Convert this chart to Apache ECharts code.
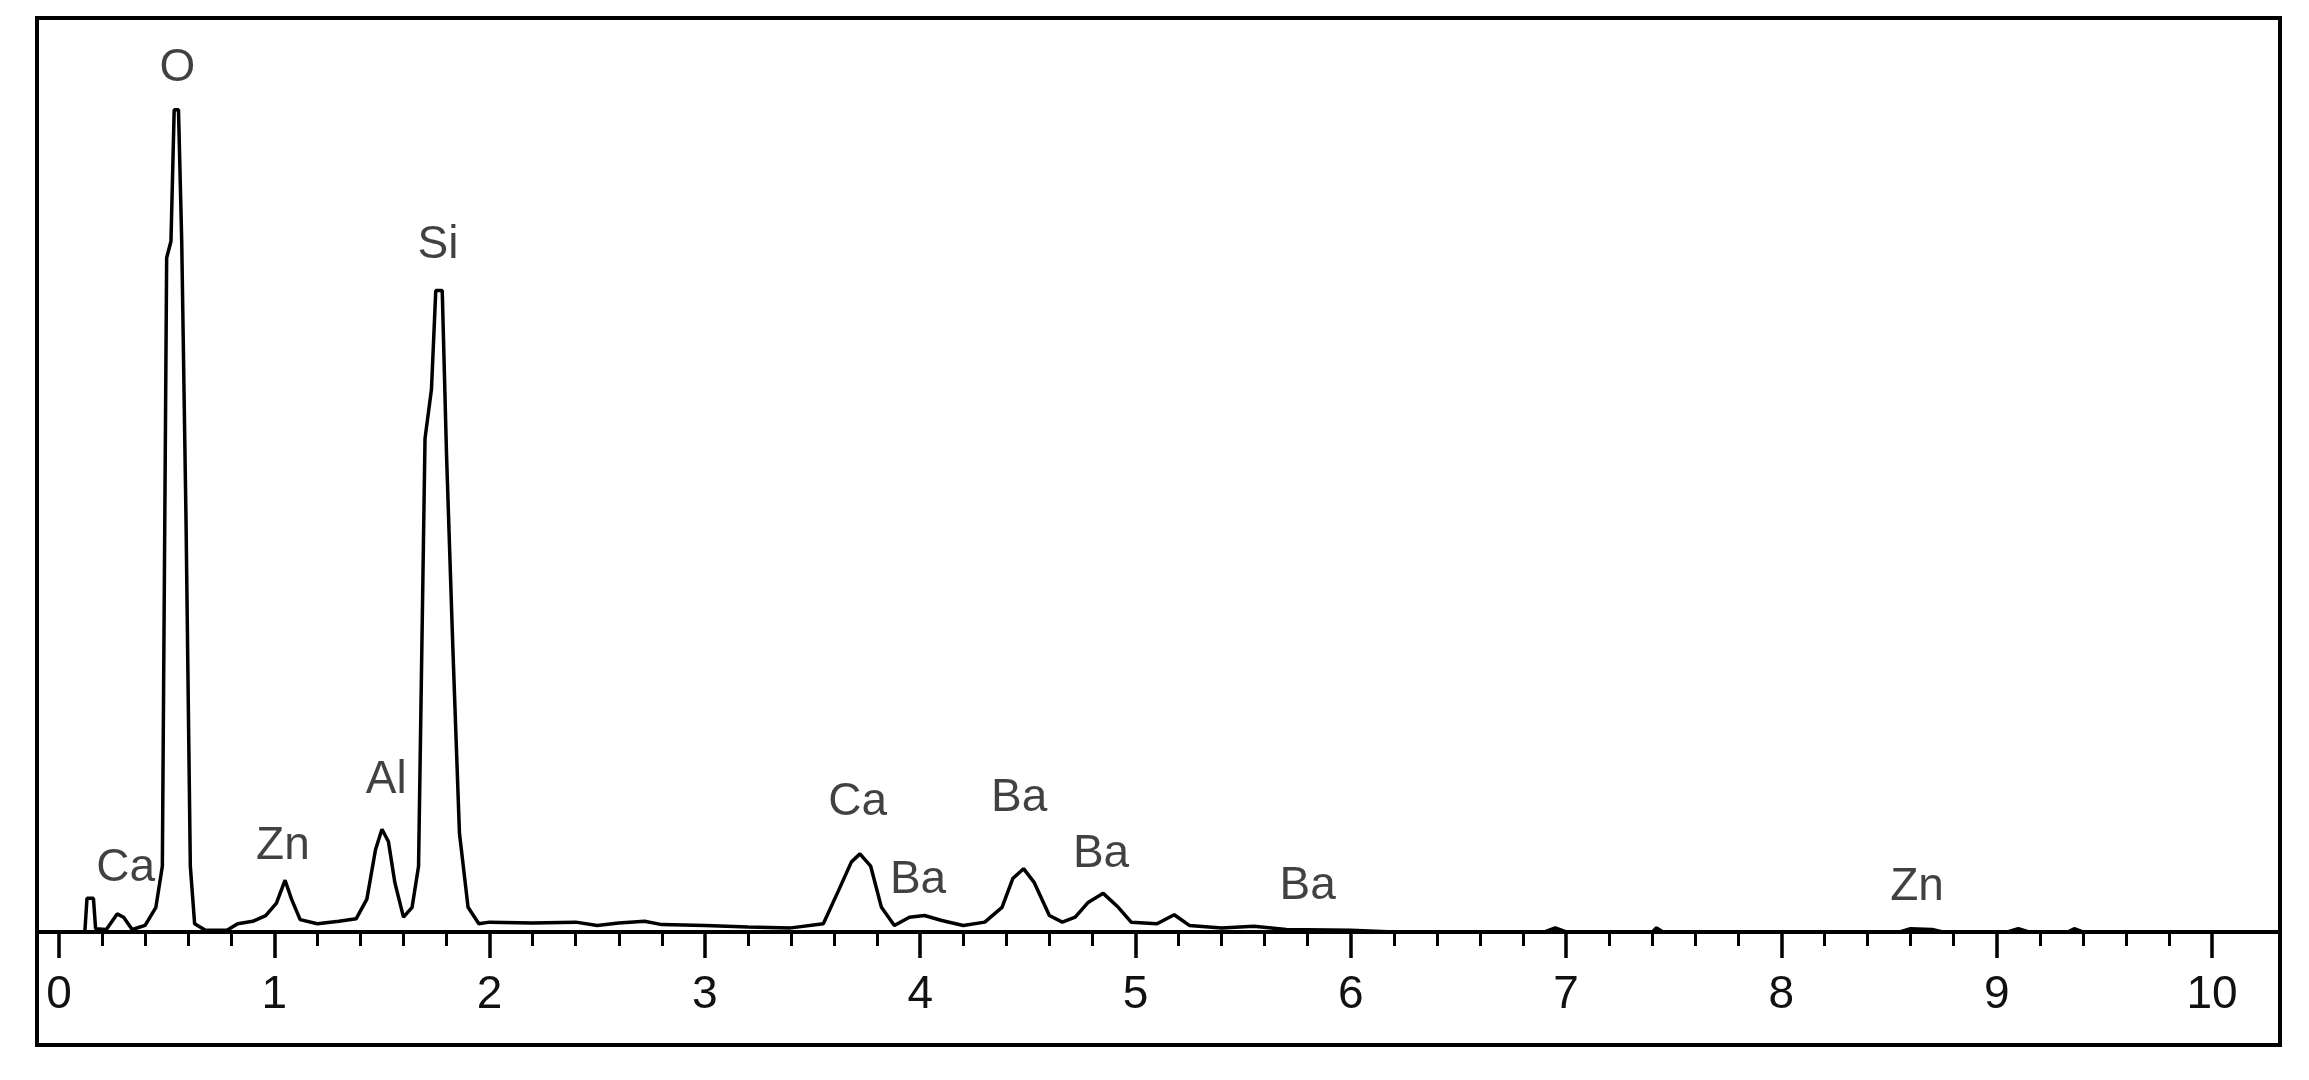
<!DOCTYPE html>
<html>
<head>
<meta charset="utf-8">
<script src="https://cdn.jsdelivr.net/npm/echarts@6/dist/echarts.min.js"></script>
<style>html,body{margin:0;padding:0;background:#fff}#chart{width:2309px;height:1080px}</style>
</head>
<body>
<div id="chart"></div>
<script>
// EDS spectrum, energy (keV) vs relative counts (O peak = 100)
let spectrum = [
    [-0.1, 0], [0.12, 0], [0.13, 4.1], [0.16, 4.1], [0.17, 0.4], [0.22, 0.3], [0.27, 2.2], [0.3, 1.8],
    [0.34, 0.3], [0.4, 0.8], [0.45, 3], [0.48, 8], [0.5, 82], [0.52, 84], [0.535, 100], [0.555, 100],
    [0.57, 84], [0.59, 50], [0.61, 8], [0.63, 1], [0.68, 0.2], [0.78, 0.2], [0.83, 1], [0.9, 1.3],
    [0.96, 2], [1.01, 3.5], [1.05, 6.3], [1.08, 4], [1.12, 1.5], [1.2, 1], [1.3, 1.3], [1.38, 1.6],
    [1.43, 4], [1.47, 10], [1.5, 12.5], [1.53, 11], [1.56, 6], [1.6, 1.8], [1.64, 3], [1.67, 8],
    [1.7, 60], [1.73, 66], [1.75, 78], [1.78, 78], [1.8, 58], [1.83, 34], [1.86, 12], [1.9, 3],
    [1.95, 1], [2.0, 1.2], [2.2, 1.1], [2.4, 1.2], [2.5, 0.8], [2.6, 1.1], [2.72, 1.3], [2.8, 0.9],
    [3.0, 0.8], [3.2, 0.6], [3.4, 0.5], [3.55, 1], [3.62, 5], [3.68, 8.5], [3.72, 9.5], [3.77, 8],
    [3.82, 3], [3.88, 0.8], [3.95, 1.8], [4.02, 2], [4.1, 1.4], [4.2, 0.8], [4.3, 1.2], [4.38, 3],
    [4.43, 6.5], [4.48, 7.7], [4.53, 6], [4.6, 2], [4.66, 1.2], [4.72, 1.8], [4.78, 3.6], [4.85, 4.7],
    [4.92, 3], [4.98, 1.2], [5.1, 1], [5.18, 2.1], [5.25, 0.8], [5.4, 0.5], [5.55, 0.7], [5.7, 0.3],
    [6.0, 0.2], [6.2, 0], [6.9, 0], [6.95, 0.5], [7.0, 0], [7.4, 0], [7.42, 0.5], [7.45, 0],
    [8.55, 0], [8.6, 0.4], [8.7, 0.3], [8.75, 0], [9.05, 0], [9.1, 0.4], [9.15, 0], [9.33, 0],
    [9.36, 0.4], [9.4, 0], [10.41, 0]
];

let peakNames = ["O", "Si", "Al", "Zn", "Ca", "Ca", "Ba", "Ba", "Ba", "Ba", "Zn"];
let peakPos = [
    [0.55, 105], [1.76, 83.5], [1.52, 18.5], [1.04, 10.4], [0.31, 7.7], [3.71, 15.8],
    [4.46, 16.3], [3.99, 6.3], [4.84, 9.5], [5.8, 5.6], [8.63, 5.4]
];

let chart = echarts.init(document.getElementById("chart"));
let option = {
    animation: false,
    backgroundColor: "#fff",
    graphic: [{
        type: "rect",
        shape: { x: 37, y: 18, width: 2243, height: 1027 },
        style: { fill: "none", stroke: "#000", lineWidth: 4 }
    }],
    grid: [
        { left: 59, right: 97, top: 11, bottom: 148 },
        { left: 37, right: 29, top: 11, bottom: 148 }
    ],
    xAxis: [
        {
            type: "value",
            gridIndex: 0,
            min: 0,
            max: 10,
            interval: 1,
            axisLine: { show: false },
            axisTick: { show: true, length: 26, lineStyle: { color: "#000", width: 3.5 } },
            minorTick: { show: true, splitNumber: 5, length: 14, lineStyle: { color: "#000", width: 3 } },
            splitLine: { show: false },
            axisLabel: { margin: 40, fontSize: 46, color: "#111", fontFamily: "Liberation Sans" }
        },
        {
            type: "value",
            gridIndex: 1,
            min: 0,
            max: 1,
            axisLine: { show: true, lineStyle: { color: "#000", width: 4 } },
            axisTick: { show: false },
            axisLabel: { show: false },
            splitLine: { show: false }
        }
    ],
    yAxis: [
        { type: "value", gridIndex: 0, min: 0, max: 112, show: false },
        { type: "value", gridIndex: 1, min: 0, max: 112, show: false }
    ],
    series: [
        {
            type: "line",
            data: spectrum,
            clip: false,
            showSymbol: false,
            symbol: "none",
            lineStyle: { color: "#000", width: 3.5 },
            z: 3
        },
        {
            type: "scatter",
            symbolSize: 0,
            data: peakPos.map((p, i) => ({ value: p, name: peakNames[i] })),
            label: {
                show: true,
                position: "inside",
                formatter: p => p.name,
                fontSize: 46,
                color: "#111",
                fontFamily: "Liberation Sans"
            },
            z: 4
        }
    ]
};
chart.setOption(option);
</script>
</body>
</html>
